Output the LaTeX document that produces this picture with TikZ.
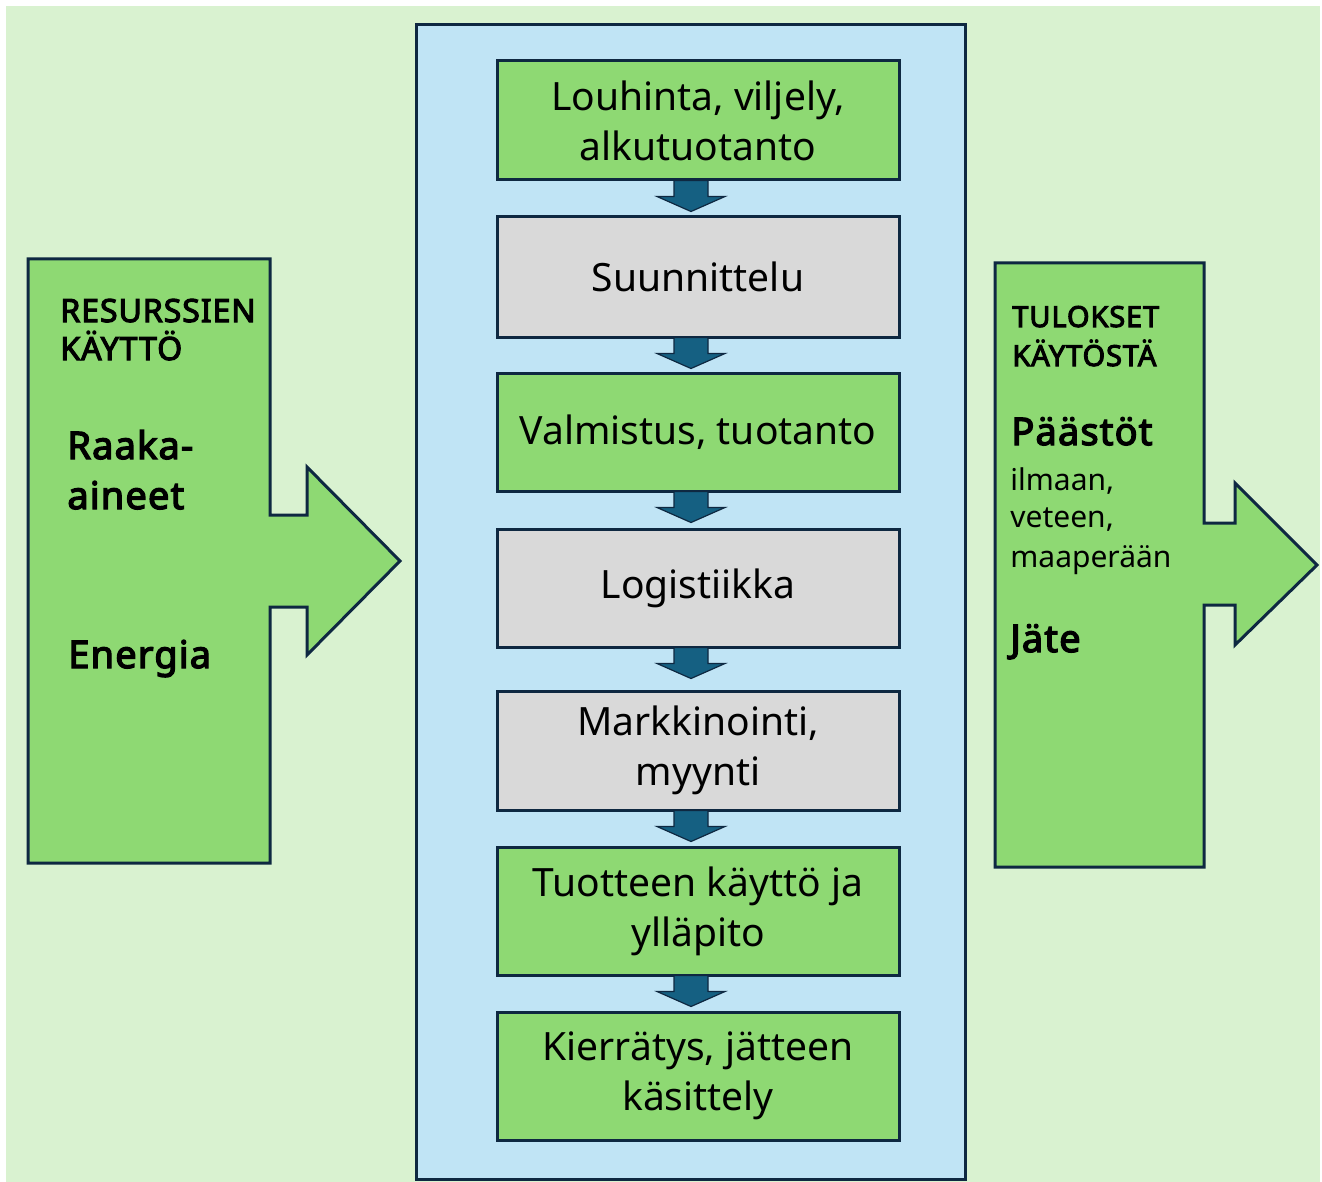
\documentclass[tikz,border=0pt]{standalone}
\usepackage{fontspec}
\setmainfont{Noto Sans}[BoldFont={Noto Sans}, BoldFeatures={FakeBold=3.5, LetterSpace=3}]
\usetikzlibrary{calc}
\definecolor{bgg}{HTML}{D9F2D0}
\definecolor{lblue}{HTML}{C0E4F5}
\definecolor{pgreen}{HTML}{8ED973}
\definecolor{pgray}{HTML}{D9D9D9}
\definecolor{navy}{HTML}{0E2841}
\definecolor{accent}{HTML}{156082}
\tikzset{
  procbox/.style={draw=navy, line width=1.5pt, inner sep=0pt, minimum width=201pt,
    align=center, font=\fontsize{19.5pt}{25pt}\selectfont, text=black},
  gbox/.style={procbox, fill=pgreen},
  graybox/.style={procbox, fill=pgray},
  sarrow/.style={fill=accent, draw=navy, line width=0.6pt, line join=miter},
  bigshape/.style={fill=pgreen, draw=navy, line width=1.5pt, line join=miter},
  lefthead/.style={anchor=base west, inner sep=0pt, font=\fontsize{16pt}{18pt}\selectfont\bfseries},
  righthead/.style={anchor=base west, inner sep=0pt, font=\fontsize{14.5pt}{18pt}\selectfont\bfseries},
  sidebig/.style={anchor=base west, inner sep=0pt, font=\fontsize{19pt}{25pt}\selectfont\bfseries},
  sidesmall/.style={anchor=base west, inner sep=0pt, font=\fontsize{15pt}{18pt}\selectfont},
}
\newcommand\flowarrow[1]{%
  \draw[sarrow] ($(#1.south)+(-24,-1)$) -- ++(34,0) -- ++(0,16) -- ++(17,0)
    -- ++(-34,15) -- ++(-34,-15) -- ++(17,0) -- cycle;}
\begin{document}
\begin{tikzpicture}[x=0.5pt,y=-0.5pt]
\useasboundingbox (0,0) rectangle (1322,1182);
\fill[bgg] (6,6) rectangle (1320,1182);
% left input shape
\draw[bigshape] (28,259) -- (270,259) -- (270,515) -- (307,515) -- (307,467) -- (400,561)
  -- (307,655) -- (307,607) -- (270,607) -- (270,863) -- (28,863) -- cycle;
% right output shape
\draw[bigshape] (995,263) -- (1204,263) -- (1204,523) -- (1235,523) -- (1235,483) -- (1317,565)
  -- (1235,645) -- (1235,605) -- (1204,605) -- (1204,867) -- (995,867) -- cycle;
% central container
\draw[fill=lblue, draw=navy, line width=1.5pt] (416,25) rectangle (965,1179);
% process boxes
\node[gbox, minimum height=59.5pt] (b1) at (698,120.5) {Louhinta, viljely,\\alkutuotanto};
\node[graybox, minimum height=60pt] (b2) at (698,277) {Suunnittelu};
\node[gbox, minimum height=59pt] (b3) at (698,432) {Valmistus, tuotanto};
\node[graybox, minimum height=59pt] (b4) at (698,588) {Logistiikka};
\node[graybox, minimum height=59.5pt] (b5) at (698,750.5) {Markkinointi,\\myynti};
\node[gbox, minimum height=64pt] (b6) at (698,911) {Tuotteen käyttö ja\\ylläpito};
\node[gbox, minimum height=64pt] (b7) at (698,1076) {Kierrätys, jätteen\\käsittely};
\flowarrow{b1}
\flowarrow{b2}
\flowarrow{b3}
\flowarrow{b4}
\flowarrow{b5}
\flowarrow{b6}
% left texts
\node[lefthead] (lh1) at (60,322) {RESURSSIEN};
\node[lefthead] (lh2) at (60,360) {KÄYTTÖ};
\node[sidebig] (raaka1) at (67,459) {Raaka-};
\node[sidebig] (raaka2) at (67,509) {aineet};
\node[sidebig] (energia) at (68,668) {Energia};
% right texts
\node[righthead] (rh1) at (1012,327) {TULOKSET};
\node[righthead] (rh2) at (1012,366) {KÄYTÖSTÄ};
\node[sidebig] (paastot) at (1011,445) {Päästöt};
\node[sidesmall] (r1) at (1010,490) {ilmaan,};
\node[sidesmall] (r2) at (1010,527) {veteen,};
\node[sidesmall] (r3) at (1010,567) {maaperään};
\node[sidebig] (jate) at (1010,652) {Jäte};
\end{tikzpicture}
\end{document}
